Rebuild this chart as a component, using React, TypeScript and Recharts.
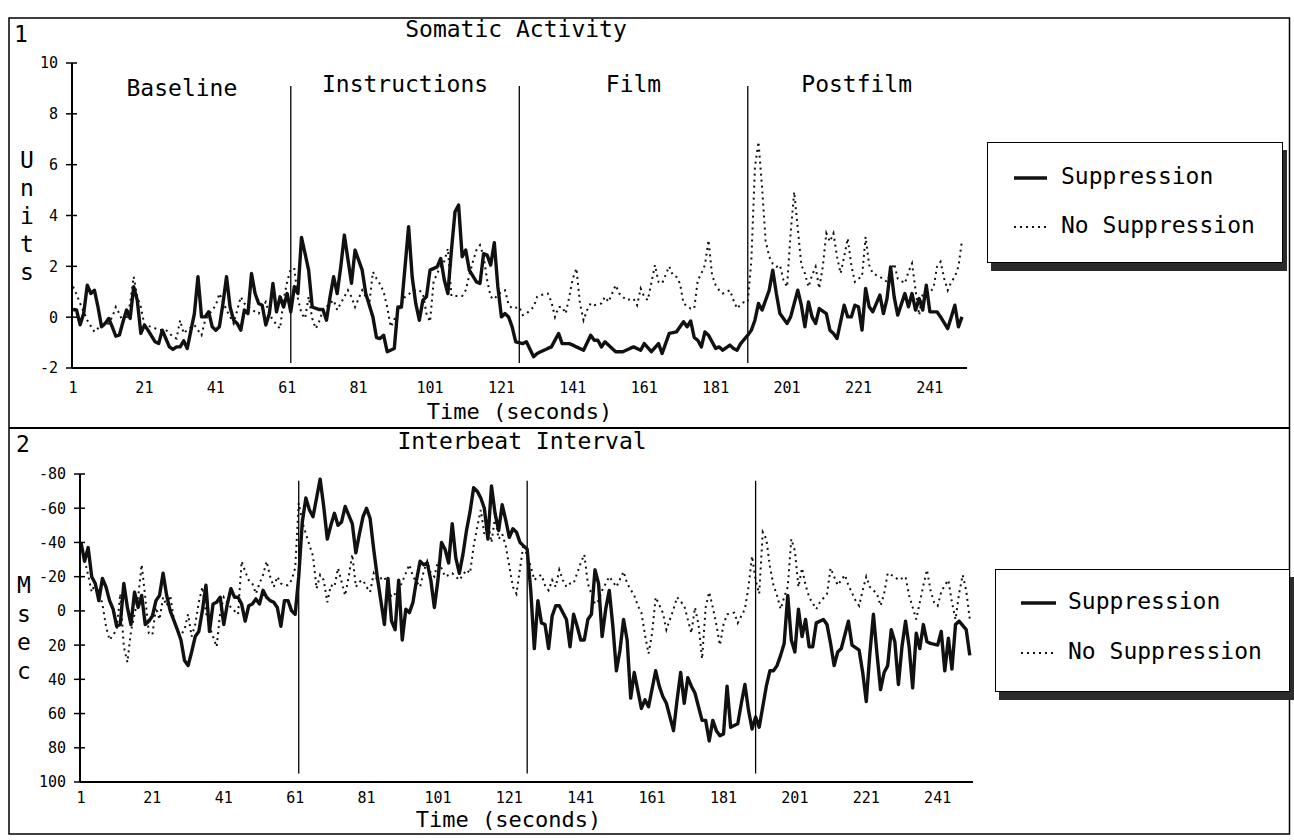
import { LineChart, Line, XAxis, YAxis, ReferenceLine, ReferenceArea, Legend, Label } from 'recharts';

const FONT = '"DejaVu Sans Mono", "Liberation Mono", monospace';

// axis ticks
const timeTicks = [1, 21, 41, 61, 81, 101, 121, 141, 161, 181, 201, 221, 241];
const somaticTicks = [-2, 0, 2, 4, 6, 8, 10];
const ibiTicks = [-80, -60, -40, -20, 0, 20, 40, 60, 80, 100];

// session phases, boundaries in seconds
const phaseNames = ['Baseline', 'Instructions', 'Film', 'Postfilm'];
const phaseEdges = [1, 62, 126, 190, 251];

const seriesNames = ['Suppression', 'No Suppression'];

const somaticSuppression = [
  [1, 0.3], [2, 0.28], [3, -0.3], [4, 0.15], [5, 1.26], [6, 0.93], [7, 1.06], [8, 0.4], [9, -0.38], [10, -0.25],
  [11, -0.05], [12, -0.38], [13, -0.75], [14, -0.7], [15, -0.18], [16, 0.28], [17, -0.05], [18, 1.2], [19, 0.67], [20, -0.64],
  [21, -0.31], [22, -0.51], [24, -0.97], [25, -1.04], [26, -0.51], [27, -0.84], [28, -1.17], [29, -1.27], [30, -1.17], [31, -1.17],
  [32, -0.93], [33, -1.23], [35, 0.14], [36, 1.59], [37, 0.01], [38, 0.01], [39, 0.21], [40, -0.38], [41, -0.51], [42, -0.38],
  [43, 0.54], [44, 1.59], [45, 0.4], [46, -0.12], [47, -0.25], [48, -0.51], [49, 0.28], [50, 0.14], [51, 1.72], [52, 0.93],
  [53, 0.54], [54, 0.47], [55, -0.31], [56, 0.14], [57, 1.33], [58, 0.21], [59, 0.8], [60, 0.4], [61, 0.93], [62, 0.21],
  [63, 1.2], [64, 0.93], [65, 3.14], [66, 2.5], [67, 1.85], [68, 0.4], [70, 0.3], [71, 0.3], [72, -0.12], [73, 0.8],
  [74, 1.59], [75, 0.93], [76, 1.98], [77, 3.23], [79, 1.33], [80, 2.64], [82, 1.85], [83, 0.93], [85, 0.01], [86, -0.8],
  [87, -0.84], [88, -0.71], [89, -1.36], [91, -1.23], [92, 0.4], [93, 0.4], [95, 3.56], [96, 1.59], [97, 0.54], [98, -0.12],
  [99, 0.67], [100, 0.8], [101, 1.85], [103, 1.98], [104, 2.31], [105, 1.46], [106, 0.93], [107, 2.64], [108, 4.15], [109, 4.41],
  [110, 2.38], [111, 2.64], [112, 1.85], [114, 1.39], [115, 1.33], [116, 2.5], [117, 2.44], [118, 2.05], [119, 2.93], [120, 1.19],
  [121, 0.01], [122, 0.14], [123, 0.01], [124, -0.38], [125, -0.97], [127, -1.04], [128, -0.97], [130, -1.56], [131, -1.43], [132, -1.36],
  [134, -1.23], [135, -1.17], [137, -0.64], [138, -1.04], [140, -1.04], [141, -1.1], [142, -1.17], [144, -1.3], [146, -0.71], [147, -0.91],
  [148, -0.91], [149, -1.17], [150, -0.97], [152, -1.23], [153, -1.36], [155, -1.36], [157, -1.23], [158, -1.17], [160, -1.3], [161, -1.04],
  [163, -1.36], [165, -1.04], [166, -1.43], [168, -0.64], [170, -0.58], [172, -0.18], [173, -0.38], [174, -0.15], [175, -0.8], [176, -0.91],
  [177, -1.17], [178, -0.58], [179, -0.71], [181, -1.23], [182, -1.17], [183, -1.3], [185, -1.1], [186, -1.23], [187, -1.3], [188, -1.04],
  [190, -0.71], [191, -0.51], [192, -0.12], [193, 0.54], [194, 0.28], [196, 1.06], [197, 1.85], [198, 0.93], [199, 0.14], [201, -0.25],
  [202, 0.01], [204, 1.06], [205, 0.47], [206, -0.38], [207, 0.6], [208, 0.01], [209, -0.25], [210, 0.34], [212, 0.14], [213, -0.51],
  [214, -0.64], [215, -0.84], [217, 0.47], [218, 0.01], [219, 0.01], [220, 0.47], [221, 0.41], [222, -0.51], [223, 1.13], [224, 0.41],
  [225, 0.21], [227, 0.87], [228, 0.14], [229, 0.73], [230, 1.98], [231, 0.8], [232, 0.08], [234, 0.93], [235, 0.41], [236, 0.93],
  [237, 0.28], [238, 0.73], [239, 0.28], [240, 1.26], [241, 0.21], [243, 0.21], [244, 0.01], [246, -0.45], [247, 0.01], [248, 0.47],
  [249, -0.38], [250, 0.01],
];

const somaticNoSuppression = [
  [1, 1.2], [2, 0.9], [3, 0.54], [5, -0.12], [7, -0.58], [9, -0.3], [11, -0.25], [12, 0.01], [13, 0.4], [14, 0.14],
  [15, -0.2], [16, -0.05], [17, 0.54], [18, 1.59], [19, 0.8], [20, 0.4], [21, -0.31], [23, -0.38], [25, -0.5], [27, -0.5],
  [29, -0.77], [30, -0.84], [31, -0.12], [32, -0.64], [33, -0.5], [35, -0.31], [36, -0.51], [37, -0.71], [38, -0.12], [39, 0.08],
  [40, 0.28], [41, 0.47], [42, 0.93], [44, 0.28], [46, -0.25], [48, 0.8], [49, 0.54], [51, 0.3], [53, 0.14], [55, 0.6],
  [56, 0.1], [58, -0.3], [59, -0.45], [60, 0.7], [61, 1.4], [62, 1.9], [63, 1.9], [64, 0.73], [65, 0.14], [66, -0.05],
  [67, 0.8], [68, -0.05], [69, -0.45], [70, -0.15], [71, 0.28], [74, 0.67], [75, 0.28], [76, 0.54], [77, 0.8], [78, 1.06],
  [79, 0.8], [80, 0.4], [82, 1.06], [83, 0.8], [84, 0.54], [85, 1.78], [86, 1.52], [87, 1.3], [88, 1.0], [89, 0.4],
  [90, -0.38], [92, 0.2], [94, 0.8], [96, 1.0], [97, 1.06], [98, 1.06], [99, 0.93], [100, 0.14], [101, -0.18], [102, 1.39],
  [103, 1.72], [104, 2.0], [105, 2.2], [106, 2.7], [107, 0.83], [108, 0.83], [110, 0.83], [111, 1.06], [112, 1.65], [113, 2.18],
  [114, 2.64], [115, 2.83], [116, 2.4], [117, 1.46], [118, 0.8], [119, 0.7], [120, 0.9], [122, 1.06], [123, 0.5], [124, 0.34],
  [126, 0.4], [127, 0.08], [128, 0.14], [130, 0.4], [131, 0.8], [132, 0.87], [134, 0.93], [135, 0.6], [136, 0.01], [137, 0.4],
  [138, 0.4], [139, 0.14], [140, 0.8], [141, 1.52], [142, 1.92], [143, 0.54], [144, -0.12], [145, 0.28], [146, 0.54], [147, 0.47],
  [149, 0.54], [150, 0.8], [151, 0.6], [153, 1.26], [154, 0.93], [155, 0.8], [156, 0.67], [158, 0.73], [159, 0.47], [160, 1.13],
  [161, 0.8], [162, 0.67], [164, 2.05], [165, 1.39], [166, 1.33], [168, 2.0], [169, 1.65], [170, 1.59], [171, 1.33], [172, 0.54],
  [174, 0.34], [175, 0.34], [176, 1.46], [177, 1.72], [178, 2.05], [179, 3.03], [180, 1.65], [181, 1.26], [182, 1.06], [183, 0.93],
  [185, 1.06], [186, 0.67], [187, 0.34], [188, 0.5], [189, 0.6], [190, 0.6], [191, 2.24], [192, 5.9], [193, 6.9], [194, 5.1],
  [195, 3.0], [196, 2.38], [197, 2.1], [198, 1.98], [199, 2.05], [200, 1.46], [201, 1.19], [202, 3.3], [203, 4.93], [204, 3.5],
  [205, 2.05], [206, 1.72], [207, 1.19], [208, 1.65], [209, 1.98], [210, 1.13], [211, 1.98], [212, 3.3], [213, 2.97], [214, 3.3],
  [215, 2.38], [216, 1.72], [217, 2.38], [218, 3.1], [219, 2.05], [220, 1.39], [221, 1.52], [222, 1.59], [223, 3.16], [224, 2.05],
  [225, 1.72], [227, 1.59], [229, 1.39], [231, 2.11], [232, 1.52], [234, 1.33], [235, 1.78], [236, 2.11], [237, 1.06], [238, 0.08],
  [239, 0.93], [241, 1.0], [242, 1.13], [243, 1.98], [244, 2.18], [245, 1.52], [246, 1.06], [247, 1.39], [248, 1.59], [249, 1.98],
  [250, 3.03],
];

const ibiSuppression = [
  [1, -40], [2, -29], [3, -37], [4, -20], [5, -16], [6, -6], [7, -19], [8, -14], [9, -6], [10, -1],
  [11, 9], [12, 8], [13, -16], [14, -2], [15, 8], [16, -11], [17, -2], [18, -9], [19, 8], [20, 6],
  [21, 3], [22, -6], [23, -9], [24, -22], [25, -9], [26, 0], [28, 11], [29, 17], [30, 29], [31, 32],
  [32, 24], [33, 15], [34, 12], [35, 0], [36, -15], [37, 12], [38, -4], [39, -5], [40, -8], [41, 8],
  [42, -4], [43, -13], [44, -8], [45, -8], [46, -4], [47, 6], [48, -3], [49, -4], [50, -7], [51, -4],
  [52, -12], [53, -8], [54, -6], [55, -5], [56, -2], [57, 9], [58, -6], [59, -6], [60, 0], [61, 2],
  [62, -20], [63, -52], [64, -66], [65, -59], [66, -55], [67, -66], [68, -77], [69, -61], [70, -42], [71, -50],
  [72, -57], [73, -50], [74, -52], [75, -61], [77, -51], [78, -34], [79, -45], [80, -55], [81, -60], [82, -54],
  [83, -36], [84, -20], [85, -6], [86, 8], [87, -19], [88, 6], [89, 11], [90, -18], [91, 17], [92, -1],
  [93, 1], [94, -5], [95, -18], [96, -29], [97, -27], [98, -28], [99, -18], [100, -2], [101, -18], [102, -40],
  [103, -36], [104, -28], [105, -51], [106, -31], [107, -22], [108, -33], [109, -47], [110, -58], [111, -72], [112, -70],
  [113, -66], [114, -60], [115, -42], [116, -73], [117, -57], [118, -47], [119, -62], [120, -53], [121, -43], [122, -48],
  [123, -46], [124, -40], [125, -38], [126, -36], [127, -12], [128, 22], [129, -6], [130, 7], [131, 8], [132, 22],
  [133, 3], [134, -3], [135, -3], [137, 5], [138, 21], [139, 2], [140, 9], [141, 17], [142, 17], [143, 5],
  [144, 2], [145, -24], [146, -16], [147, 15], [148, -1], [149, -12], [150, 9], [151, 35], [152, 23], [153, 5],
  [154, 17], [155, 51], [156, 36], [158, 57], [159, 52], [160, 56], [162, 35], [163, 44], [164, 50], [165, 54],
  [167, 70], [168, 52], [169, 36], [170, 54], [171, 39], [172, 44], [173, 48], [174, 56], [175, 64], [176, 64],
  [177, 76], [178, 64], [179, 70], [180, 73], [181, 72], [182, 44], [183, 68], [185, 66], [186, 54], [187, 43],
  [188, 58], [189, 69], [190, 62], [191, 68], [192, 56], [193, 44], [194, 35], [195, 35], [196, 32], [197, 26],
  [198, 19], [199, -9], [200, 17], [201, 24], [202, -1], [203, 15], [204, 5], [205, 21], [206, 21], [207, 7],
  [209, 5], [210, 8], [211, 19], [212, 32], [213, 24], [214, 22], [216, 6], [217, 20], [219, 23], [220, 36],
  [221, 53], [222, 25], [223, 2], [224, 25], [225, 46], [226, 36], [227, 32], [228, 11], [229, 18], [230, 43],
  [231, 21], [232, 6], [233, 21], [234, 45], [235, 13], [236, 22], [237, 8], [238, 18], [239, 19], [241, 20],
  [242, 12], [243, 35], [244, 16], [245, 34], [246, 8], [247, 6], [249, 11], [250, 26],
];

const ibiNoSuppression = [
  [1, -40], [2, -30], [3, -21], [4, -11], [5, -16], [6, -11], [7, -4], [8, 9], [9, 17], [10, 14],
  [11, 11], [12, -10], [13, 21], [14, 30], [15, 12], [16, 2], [17, -8], [18, -27], [19, -8], [20, 13],
  [21, 14], [22, -2], [23, 5], [24, -8], [25, -3], [26, -9], [27, 5], [28, 12], [29, 14], [30, 11],
  [31, 2], [32, 15], [33, 8], [34, -5], [35, -14], [36, 1], [37, 9], [38, 15], [39, 21], [40, 1],
  [41, -8], [43, -2], [45, 2], [46, -29], [47, -23], [48, -18], [49, -16], [50, -10], [51, -16], [52, -21],
  [53, -29], [54, -20], [55, -14], [56, -20], [57, -16], [58, -15], [59, -15], [60, -18], [61, -25], [62, -63],
  [63, -52], [64, -45], [66, -32], [67, -13], [68, -21], [69, -18], [70, -5], [71, -15], [72, -14], [73, -25],
  [74, -17], [75, -9], [76, -20], [77, -33], [78, -14], [79, -17], [80, -18], [81, -14], [82, -11], [83, -22],
  [84, -18], [86, -20], [88, -8], [90, -12], [92, -22], [93, -27], [94, -20], [96, -14], [97, -23], [98, -29],
  [99, -22], [100, -20], [101, -29], [102, -25], [103, -20], [105, -22], [107, -18], [109, -24], [110, -22], [111, -38],
  [112, -49], [113, -59], [114, -45], [115, -52], [116, -40], [117, -55], [118, -42], [119, -45], [120, -38], [121, -26],
  [122, -14], [123, -10], [124, -25], [125, -39], [126, -32], [127, -26], [128, -18], [129, -20], [130, -21], [131, -15],
  [132, -12], [133, -18], [134, -14], [135, -24], [136, -18], [137, -14], [138, -16], [139, -16], [140, -22], [141, -28],
  [142, -33], [143, -16], [144, -10], [145, -4], [146, -6], [147, -12], [148, -16], [149, -20], [151, -14], [153, -23],
  [154, -16], [156, -9], [157, -3], [158, 1], [159, 14], [160, 25], [161, 13], [162, -8], [164, 1], [165, 11],
  [167, -1], [168, -8], [170, -3], [171, 5], [172, 13], [173, -2], [174, 8], [175, 28], [176, -2], [177, -11],
  [178, -2], [179, 8], [180, 20], [181, 8], [182, 2], [184, 1], [185, 7], [187, -1], [188, -14], [189, -32],
  [190, -18], [191, -10], [192, -46], [193, -42], [194, -26], [195, -15], [196, -9], [197, -1], [198, -8], [199, -14],
  [200, -42], [201, -35], [202, -14], [203, -25], [204, -15], [205, -8], [207, -1], [208, -5], [210, -10], [211, -25],
  [213, -15], [214, -18], [215, -21], [216, -15], [218, -6], [219, -3], [220, -12], [221, -20], [222, -14], [224, -10],
  [225, -3], [226, -10], [227, -22], [229, -20], [230, -18], [232, -20], [233, -9], [235, 5], [236, -5], [237, -15],
  [238, -24], [239, -12], [240, -5], [241, -3], [242, -11], [243, -15], [244, -18], [245, -5], [246, 5], [247, -10],
  [248, -21], [249, -12], [250, 5],
];

const toPoints = (pairs: number[][]) => pairs.map(([t, v]) => ({ t, v }));

const solidStyle = { stroke: '#111', strokeWidth: 3.4 };
const dottedStyle = { stroke: '#111', strokeWidth: 2, strokeDasharray: '2 4' };
const tickText = { fontSize: 15, fill: '#000', fontFamily: FONT };
const Y_TICK_GAP = 14;

// small cross-shaped tick on the y axis, label to its left
const yTick = (props: any) => {
  const { x, y, payload } = props;
  const ax = x + Y_TICK_GAP;
  return (
    <g>
      <line x1={ax - 6} x2={ax + 5} y1={y} y2={y} stroke="#000" strokeWidth={1.5} />
      <text x={x} y={y} dy="0.36em" textAnchor="end" {...tickText}>
        {payload.value}
      </text>
    </g>
  );
};

// legend box with the drop shadow of the original
function LegendBox({ payload, rows, sample, textX, width, height }: any) {
  const entries = (payload || []).slice().sort((a: any, b: any) => seriesNames.indexOf(a.value) - seriesNames.indexOf(b.value));
  return (
    <div style={{ width, height, boxSizing: 'border-box', border: '1.5px solid #000', background: '#fff', boxShadow: '4px 8px 0 #2b2b2b' }}>
      <svg width={width - 3} height={height - 3} style={{ display: 'block' }}>
        {entries.map((entry: any, i: number) => {
          const st = entry.value === seriesNames[0] ? solidStyle : dottedStyle;
          return (
            <g key={entry.value}>
              <line x1={sample[0]} x2={sample[1]} y1={rows[i] - 6} y2={rows[i] - 6} {...st} />
              <text x={textX} y={rows[i]} fontFamily={FONT} fontSize={23} fill="#000">{entry.value}</text>
            </g>
          );
        })}
      </svg>
    </div>
  );
}

const timeLabel = (dx: number, base: number) => ({ viewBox }: any) => (
  <text x={viewBox.x + viewBox.width / 2 + dx} y={viewBox.y + base} textAnchor="middle" fontFamily={FONT} fontSize={22} fill="#000">
    Time (seconds)
  </text>
);

const stackedLabel = (letters: string, dx: number, base: number, step: number) => ({ viewBox }: any) => (
  <g>
    {letters.split('').map((ch, i) => (
      <text key={i} x={viewBox.x + dx} y={viewBox.y + base + i * step} textAnchor="middle" fontFamily={FONT} fontSize={23} fill="#000">
        {ch}
      </text>
    ))}
  </g>
);

function Panel(p: any) {
  const phaseLines = phaseEdges.slice(1, 4);
  return (
    <div style={{ position: 'absolute', left: 0, top: p.top }}>
      <LineChart width={1294} height={p.height} margin={p.margin}>
        <XAxis
          type="number"
          dataKey="t"
          domain={p.xDomain}
          ticks={timeTicks}
          allowDataOverflow
          height={30}
          tickLine={false}
          tickSize={6}
          tickMargin={p.tickGap}
          axisLine={{ stroke: '#000', strokeWidth: 2 }}
          tick={tickText}
          label={timeLabel(p.timeDx, p.timeBase)}
        />
        <YAxis
          type="number"
          domain={p.yDomain}
          ticks={p.yTicks}
          reversed={p.reversed}
          allowDataOverflow
          width={40}
          tickSize={0}
          tickMargin={Y_TICK_GAP}
          axisLine={{ stroke: '#000', strokeWidth: 2 }}
          tickLine={false}
          tick={yTick}
          label={stackedLabel(p.letters, p.lettersDx, p.lettersBase, p.lettersStep)}
        />
        {phaseLines.map((x) => (
          <ReferenceLine key={x} segment={[{ x, y: p.phaseTop }, { x, y: p.phaseBottom }]} stroke="#000" strokeWidth={1.3} />
        ))}
        {p.showPhaseNames &&
          phaseNames.map((name, i) => (
            <ReferenceArea
              key={name}
              x1={phaseEdges[i]}
              x2={phaseEdges[i + 1]}
              y1={8.5}
              y2={9.85}
              fill="none"
              stroke="none"
              label={<Label value={name} position="center" dy={i === 0 ? 4 : 0} fontSize={23} fill="#000" fontFamily={FONT} />}
            />
          ))}
        <Line data={toPoints(p.suppression)} dataKey="v" name={seriesNames[0]} type="linear" {...solidStyle} strokeLinejoin="round" dot={false} activeDot={false} isAnimationActive={false} />
        <Line data={toPoints(p.noSuppression)} dataKey="v" name={seriesNames[1]} type="linear" {...dottedStyle} dot={false} activeDot={false} isAnimationActive={false} />
        <Legend
          layout="horizontal"
          verticalAlign="middle"
          align="center"
          wrapperStyle={{ left: p.legend.left, top: p.legend.top, width: p.legend.width, height: p.legend.height }}
          content={(props: any) => (
            <LegendBox payload={props.payload} rows={p.legend.rows} sample={p.legend.sample} textX={p.legend.textX} width={p.legend.width} height={p.legend.height} />
          )}
        />
      </LineChart>
    </div>
  );
}

export default function App() {
  return (
    <div style={{ position: 'absolute', left: 0, top: 0, width: 1294, height: 840, background: '#fff', overflow: 'hidden' }}>
      <svg width={1294} height={840} style={{ position: 'absolute', left: 0, top: 0 }}>
        <rect x={9} y={18} width={1280.5} height={816} fill="none" stroke="#000" strokeWidth={1.5} />
        <line x1={9} x2={1289.5} y1={428} y2={428} stroke="#000" strokeWidth={2} />
        <text x={21} y={42} textAnchor="middle" fontFamily={FONT} fontSize={23} fill="#000">1</text>
        <text x={516} y={37} textAnchor="middle" fontFamily={FONT} fontSize={23} fill="#000">Somatic Activity</text>
        <text x={23} y={452} textAnchor="middle" fontFamily={FONT} fontSize={23} fill="#000">2</text>
        <text x={522} y={449} textAnchor="middle" fontFamily={FONT} fontSize={23} fill="#000">Interbeat Interval</text>
      </svg>
      <Panel
        top={0}
        height={430}
        margin={{ top: 63, right: 327, bottom: 32, left: 32 }}
        xDomain={[0.72, 251.4]}
        yDomain={[-2, 10]}
        yTicks={somaticTicks}
        suppression={somaticSuppression}
        noSuppression={somaticNoSuppression}
        tickGap={8}
        timeDx={0}
        timeBase={51}
        letters="Units"
        lettersDx={-5}
        lettersBase={105}
        lettersStep={28}
        phaseTop={9.1}
        phaseBottom={-1.8}
        showPhaseNames
        legend={{ left: 987, top: 142, width: 296, height: 121, rows: [41, 90], sample: [26, 59], textX: 73 }}
      />
      <Panel
        top={430}
        height={410}
        margin={{ top: 44, right: 321, bottom: 28, left: 40 }}
        xDomain={[0.72, 250.9]}
        yDomain={[-80, 100]}
        yTicks={ibiTicks}
        reversed
        suppression={ibiSuppression}
        noSuppression={ibiNoSuppression}
        tickGap={4}
        timeDx={-18}
        timeBase={45}
        letters="Msec"
        lettersDx={-16}
        lettersBase={119}
        lettersStep={28.5}
        phaseTop={-76}
        phaseBottom={95}
        showPhaseNames={false}
        legend={{ left: 995, top: 139, width: 295, height: 123, rows: [39, 89], sample: [25, 60], textX: 72 }}
      />
    </div>
  );
}
